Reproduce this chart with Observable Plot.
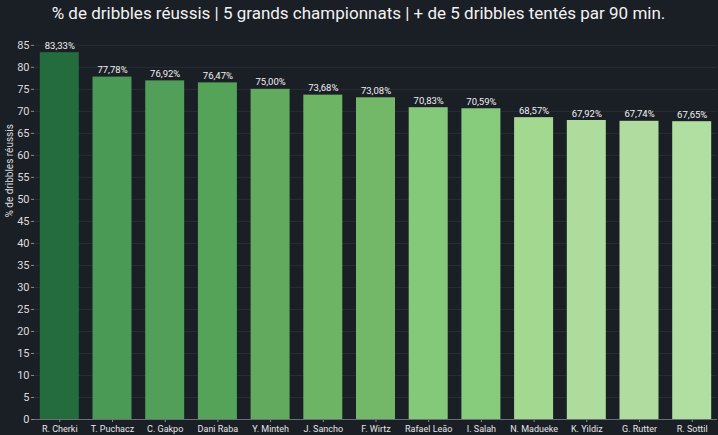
<!DOCTYPE html>
<html>
<head>
<meta charset="utf-8">
<script src="https://cdn.jsdelivr.net/npm/d3@7"></script>
<script src="https://cdn.jsdelivr.net/npm/@observablehq/plot@0.6"></script>
<style>
  html, body { margin: 0; padding: 0; background: #1a1e25; }
  #wrap { width: 718px; height: 435px; overflow: hidden; background: #1a1e25; font-family: "Roboto", "DejaVu Sans", sans-serif; }
  #title { height: 24px; line-height: 26px; color: #f2f2f2; font-size: 17px; text-align: center; padding-right: 1px; white-space: nowrap; }
</style>
</head>
<body>
<div id="wrap">
  <div id="title">% de dribbles réussis | 5 grands championnats | + de 5 dribbles tentés par 90 min.</div>
  <div id="chart"></div>
</div>
<script>
const players = ["R. Cherki", "T. Puchacz", "C. Gakpo", "Dani Raba", "Y. Minteh", "J. Sancho", "F. Wirtz", "Rafael Leão", "I. Salah", "N. Madueke", "K. Yildiz", "G. Rutter", "R. Sottil"];
const pct = [83.33, 77.78, 76.92, 76.47, 75.00, 73.68, 73.08, 70.83, 70.59, 68.57, 67.92, 67.74, 67.65];
const yTicks = [0, 5, 10, 15, 20, 25, 30, 35, 40, 45, 50, 55, 60, 65, 70, 75, 80, 85];

const data = players.map((p, i) => ({player: p, value: pct[i], label: pct[i].toFixed(2).replace(".", ",") + "%"}));

const chart = Plot.plot({
  width: 718,
  height: 411,
  marginTop: 1,
  marginBottom: 16,
  marginLeft: 34,
  marginRight: 1,
  style: {background: "#1a1e25", color: "#dcdcdc", fontFamily: "Roboto, 'DejaVu Sans', sans-serif"},
  x: {domain: players, paddingInner: 0.26, paddingOuter: 0.11, round: false, label: null},
  y: {domain: [0, 89.5], label: null},
  color: {
    type: "linear",
    domain: [67.65, 68.57, 70.83, 73.08, 75.0, 77.78, 83.33],
    range: ["#b1dea1", "#a3d891", "#84c979", "#72b868", "#62ab5e", "#4a9a55", "#246b3e"],
    interpolate: "rgb"
  },
  marks: [
    Plot.gridY(yTicks, {stroke: "#292e36", strokeOpacity: 1, strokeWidth: 1}),
    Plot.barY(data, {x: "player", y: "value", fill: "value"}),
    Plot.text(data, {x: "player", y: "value", text: "label", dy: -7, fill: "#f0f0f0", fontSize: 9.5}),
    Plot.ruleX([0], {frameAnchor: "left", stroke: "#6b6f76"}),
    Plot.axisY({ticks: yTicks, tickSize: 3, tickPadding: 2, fontSize: 11, stroke: "#8a8e95", color: "#dcdcdc", label: null}),
    Plot.axisX({tickSize: 3, tickPadding: 3, fontSize: 9, stroke: "#8a8e95", color: "#e6e6e6", label: null}),
    Plot.ruleY([0], {stroke: "#6b6f76"}),
    Plot.text(["% de dribbles réussis"], {frameAnchor: "left", dx: -25, dy: -5, rotate: -90, fontSize: 10, fill: "#dcdcdc"})
  ]
});
document.getElementById("chart").appendChild(chart);
</script>
</body>
</html>
